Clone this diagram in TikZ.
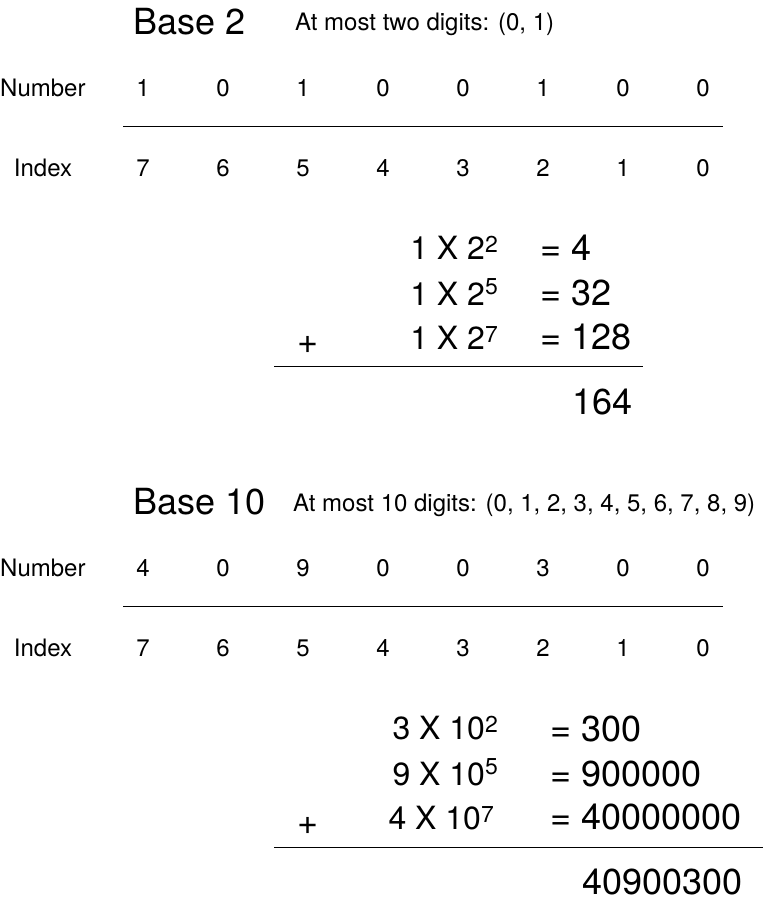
\documentclass[tikz,border=0pt]{standalone}
\usepackage{fontspec}
\setmainfont{TeX Gyre Heros}
\usepackage{tikz}
\usetikzlibrary{positioning}
% superscript power, raised by an optional amount
\newcommand{\pw}[2][7pt]{\raisebox{#1}{\fontsize{23}{26}\selectfont #2}}

\begin{document}
\begin{tikzpicture}[x=1pt, y=-1pt,
  every node/.style={inner sep=0pt, font=\fontsize{24}{28}\selectfont},
  title/.style={anchor=base west, font=\fontsize{36}{42}\selectfont},
  note/.style={anchor=base west},
  digit/.style={anchor=base},
  term/.style={anchor=base east, font=\fontsize{32}{38}\selectfont},
  result/.style={anchor=base west, font=\fontsize{36}{42}\selectfont},
  sumrule/.style={line width=1pt}]
  \useasboundingbox (0,0) rectangle (765,903);

  % ---- Base 2 ----
  \node[title] (btwo) at (133,34) {Base 2};
  \node[note] (btwonote) at (295,30) {At most two digits: (0, 1)};
  \node[note] (btwonum) at (0,96) {Number};
  \node[digit] (btwoidx) at (43,176) {Index};
  \foreach \d [count=\i from 0] in {1,0,1,0,0,1,0,0} {
    \node[digit] (btwod\i) at (143+80*\i,96) {\d};
  }
  \foreach \k [count=\i from 0] in {7,6,5,4,3,2,1,0} {
    \node[digit] (btwok\i) at (143+80*\i,176) {\k};
  }
  \draw[sumrule] (123,126) -- (723,126);
  % expansion
  \node[term] (btwotA) at (498,259) {1 X 2\pw{2}};
  \node[term] (btwotB) at (498,305) {1 X 2\pw[11pt]{5}};
  \node[term] (btwotC) at (498,349) {1 X 2\pw{7}};
  \node[result] (btworA) at (540,260) {= 4};
  \node[result] (btworB) at (540,305) {= 32};
  \node[result] (btworC) at (540,349) {= 128};
  \node[font=\fontsize{36}{42}\selectfont] (btwoplus) at (308,345) {+};
  \draw[sumrule] (274,366) -- (643,366);
  \node[result] (btwosum) at (572,414) {164};

  % ---- Base 10 ----
  \node[title] (bten) at (133,514) {Base 10};
  \node[note] (btennote) at (293,511) {At most 10 digits: (0, 1, 2, 3, 4, 5, 6, 7, 8, 9)};
  \node[note] (btennum) at (0,576) {Number};
  \node[digit] (btenidx) at (43,656) {Index};
  \foreach \d [count=\i from 0] in {4,0,9,0,0,3,0,0} {
    \node[digit] (btend\i) at (143+80*\i,576) {\d};
  }
  \foreach \k [count=\i from 0] in {7,6,5,4,3,2,1,0} {
    \node[digit] (btenk\i) at (143+80*\i,656) {\k};
  }
  \draw[sumrule] (123,606) -- (723,606);
  % expansion
  \node[term] (btentA) at (498,739) {3 X 10\pw{2}};
  \node[term] (btentB) at (498,785) {9 X 10\pw[11pt]{5}};
  \node[term] (btentC) at (494,829) {4 X 10\pw{7}};
  \node[result] (btenrA) at (550,741) {= 300};
  \node[result] (btenrB) at (550,786) {= 900000};
  \node[result] (btenrC) at (550,829) {= 40000000};
  \node[font=\fontsize{36}{42}\selectfont] (btenplus) at (308,826) {+};
  \draw[sumrule] (274,847) -- (763,847);
  \node[result] (btensum) at (582,894) {40900300};
\end{tikzpicture}
\end{document}
